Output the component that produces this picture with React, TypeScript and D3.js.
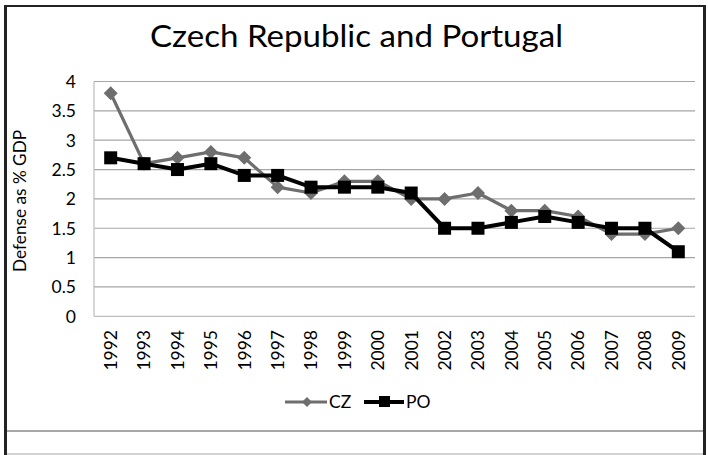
import React from "react";
import * as d3 from "d3";

const years = ["1992","1993","1994","1995","1996","1997","1998","1999","2000","2001","2002","2003","2004","2005","2006","2007","2008","2009"];
const czValues = [3.8,2.6,2.7,2.8,2.7,2.2,2.1,2.3,2.3,2.0,2.0,2.1,1.8,1.8,1.7,1.4,1.4,1.5];
const poValues = [2.7,2.6,2.5,2.6,2.4,2.4,2.2,2.2,2.2,2.1,1.5,1.5,1.6,1.7,1.6,1.5,1.5,1.1];
const yTicks = [0,0.5,1,1.5,2,2.5,3,3.5,4];
const yTickLabels = ["0","0.5","1","1.5","2","2.5","3","3.5","4"];
const title = "Czech Republic and Portugal";
const yTitle = "Defense as % GDP";
const seriesNames = ["CZ","PO"];

const W = 708, H = 455;
const FONT = "Lato, 'Open Sans', sans-serif";

export default function App() {
  const left = 94, right = 695, top = 81.5, bottom = 316.3;
  const x = d3.scaleBand<string>().domain(years).range([left, right]);
  const y = d3.scaleLinear().domain([0, 4]).range([bottom, top]);
  const cx = (yr: string) => (x(yr) as number) + x.bandwidth() / 2;
  const line = d3.line<number>().x((_, i) => cx(years[i])).y(v => y(v));
  const diamond = (px: number, py: number, r: number) =>
    `M${px},${py - r}L${px + r},${py}L${px},${py + r}L${px - r},${py}Z`;
  const czColor = "#6e6e6e";
  const poColor = "#000";

  return (
    <svg width={W} height={H} style={{ position: "absolute", left: 0, top: 0, background: "#fff" }} fontFamily={FONT}>
      {/* frame */}
      <rect x={0} y={0} width={W} height={H} fill="#fff" />
      <line x1={7} x2={703} y1={431} y2={431} stroke="#8a8a8a" strokeWidth={1.5} />
      <line x1={7} x2={703} y1={454} y2={454} stroke="#c4c4c4" strokeWidth={1.5} />
      <line x1={4} x2={706} y1={6} y2={6} stroke="#222" strokeWidth={2.2} />
      <line x1={5.5} x2={5.5} y1={5} y2={H} stroke="#222" strokeWidth={3} />
      <line x1={704.5} x2={704.5} y1={5} y2={H} stroke="#222" strokeWidth={3} />

      {/* title */}
      <text x={356.5} y={47} textAnchor="middle" fontSize={31} textLength={413} lengthAdjust="spacingAndGlyphs" fill="#000">{title}</text>

      {/* gridlines */}
      {yTicks.map((t, i) => (
        t > 0 ? <line key={i} x1={left} x2={right} y1={y(t)} y2={y(t)} stroke="#a6a6a6" strokeWidth={1.2} /> : null
      ))}
      {/* axes */}
      <line x1={left} x2={left} y1={top} y2={bottom} stroke="#bdbdbd" strokeWidth={1.2} />
      <line x1={left} x2={right} y1={bottom} y2={bottom} stroke="#bdbdbd" strokeWidth={1.2} />

      {/* y tick labels */}
      {yTicks.map((t, i) => (
        <text key={i} x={76} y={y(t)} dy="0.36em" textAnchor="end" fontSize={17.5} fill="#000">{yTickLabels[i]}</text>
      ))}
      {/* y title */}
      <text transform={`translate(26,${(top + bottom) / 2 + 2}) rotate(-90)`} textAnchor="middle" fontSize={17.5} textLength={142} lengthAdjust="spacingAndGlyphs" fill="#000">{yTitle}</text>

      {/* x tick labels */}
      {years.map(yr => (
        <text key={yr} transform={`translate(${cx(yr)},330) rotate(-90)`} textAnchor="end" dy="0.36em" fontSize={17.5} fill="#000">{yr}</text>
      ))}

      {/* CZ series */}
      <path d={line(czValues) || ""} fill="none" stroke={czColor} strokeWidth={3.2} strokeLinejoin="round" />
      {czValues.map((v, i) => (
        <path key={i} d={diamond(cx(years[i]), y(v), 7)} fill={czColor} />
      ))}
      {/* PO series */}
      <path d={line(poValues) || ""} fill="none" stroke={poColor} strokeWidth={4} strokeLinejoin="round" />
      {poValues.map((v, i) => (
        <rect key={i} x={cx(years[i]) - 6.5} y={y(v) - 6.5} width={13} height={13} fill={poColor} />
      ))}

      {/* legend */}
      <line x1={285} x2={327} y1={402} y2={402} stroke={czColor} strokeWidth={3.2} />
      <path d={diamond(307, 402, 5)} fill={czColor} />
      <text x={329} y={402} dy="0.36em" fontSize={17.5} fill="#000">{seriesNames[0]}</text>
      <line x1={364} x2={404} y1={402} y2={402} stroke={poColor} strokeWidth={4} />
      <rect x={379} y={396} width={11} height={11} fill={poColor} />
      <text x={406} y={402} dy="0.36em" fontSize={17.5} fill="#000">{seriesNames[1]}</text>
    </svg>
  );
}
